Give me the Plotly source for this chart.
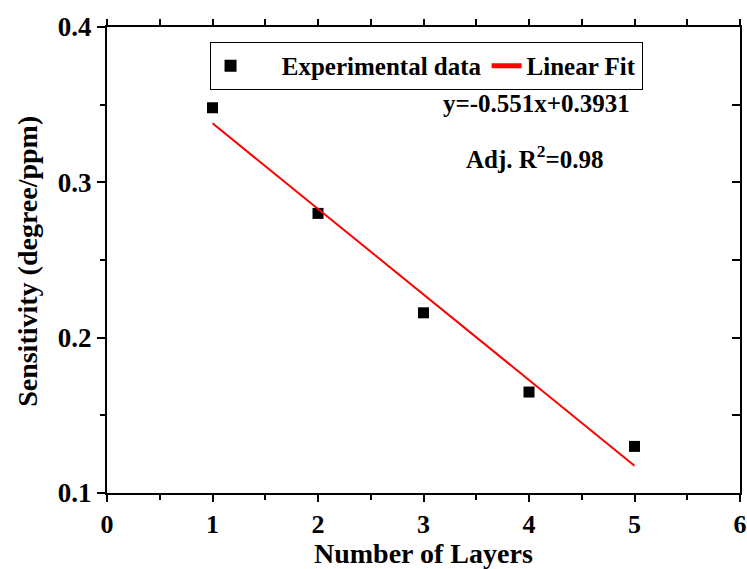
import plotly.graph_objects as go

layers = [1, 2, 3, 4, 5]
sensitivity = [0.348, 0.280, 0.216, 0.165, 0.130]
fit_x = [1, 5]
fit_y = [0.338, 0.1176]
x_ticks = [0, 1, 2, 3, 4, 5, 6]
x_tick_labels = ["0", "1", "2", "3", "4", "5", "6"]
y_ticks = [0.1, 0.2, 0.3, 0.4]
y_tick_labels = ["0.1", "0.2", "0.3", "0.4"]
x_title = "Number of Layers"
y_title = "Sensitivity (degree/ppm)"
equation_text = "y=-0.551x+0.3931"
r2_text = "Adj. R<sup>2</sup>=0.98"

FONT = "Liberation Serif"
NB = "\u00a0"

fig = go.Figure()
fig.add_trace(go.Scatter(
    x=layers, y=sensitivity, mode="markers",
    name=NB * 5 + "<b>Experimental data</b>",
    marker=dict(symbol="square", size=11, color="black"),
))
fig.add_trace(go.Scatter(
    x=fit_x, y=fit_y, mode="lines", name="<b>Linear Fit</b>",
    line=dict(color="red", width=2),
))
# invisible trace to host the mirrored axes
fig.add_trace(go.Scatter(x=[0], y=[0.1], xaxis="x2", yaxis="y2", mode="markers",
                         marker=dict(opacity=0), showlegend=False, hoverinfo="skip"))

axis_common = dict(showline=True, linecolor="black", linewidth=2, showgrid=False,
                   zeroline=False, tickcolor="black", tickwidth=2, automargin=False)

fig.update_layout(
    width=747, height=569,
    margin=dict(l=107, r=7, t=27, b=76),
    paper_bgcolor="white", plot_bgcolor="white",
    font=dict(family=FONT, color="black"),
    xaxis=dict(
        range=[0, 6], tickvals=x_ticks, ticktext=["<b>%s</b>" % t for t in x_tick_labels],
        ticks="outside", ticklen=7,
        minor=dict(dtick=0.5, ticks="outside", ticklen=5, tickcolor="black", tickwidth=2),
        tickfont=dict(size=26, family=FONT), ticklabelstandoff=0,
        **axis_common,
    ),
    yaxis=dict(
        range=[0.1, 0.4], tickvals=y_ticks, ticktext=["<b>%s</b>" % t for t in y_tick_labels],
        ticks="outside", ticklen=8,
        minor=dict(dtick=0.05, ticks="outside", ticklen=5, tickcolor="black", tickwidth=2),
        tickfont=dict(size=27, family=FONT),
        **axis_common,
    ),
    xaxis2=dict(
        overlaying="x", side="top", range=[0, 6], tickvals=x_ticks, ticks="outside", ticklen=6,
        minor=dict(dtick=0.5, ticks="outside", ticklen=6, tickcolor="black", tickwidth=2),
        showticklabels=False, **axis_common,
    ),
    yaxis2=dict(
        overlaying="y", side="right", range=[0.1, 0.4], tickvals=y_ticks, ticks="inside", ticklen=8,
        minor=dict(dtick=0.05, ticks="inside", ticklen=8, tickcolor="black", tickwidth=2),
        showticklabels=False, **axis_common,
    ),
    legend=dict(
        orientation="h", x=0.162, y=0.968, xanchor="left", yanchor="top",
        bordercolor="black", borderwidth=1, bgcolor="white",
        font=dict(size=25, family=FONT), itemsizing="constant",
        tracegroupgap=0,
    ),
    showlegend=True,
    annotations=[
        dict(text="<b>%s</b>" % x_title, x=0.5, y=-0.13, xref="paper", yref="paper",
             xanchor="center", yanchor="middle",
             showarrow=False, font=dict(size=28, family=FONT)),
        dict(text="<b>%s</b>" % y_title, x=-0.1248, y=0.496, xref="paper", yref="paper",
             xanchor="center", yanchor="middle", textangle=-90,
             showarrow=False, font=dict(size=28, family=FONT)),
        dict(text="<b>%s</b>" % equation_text, x=0.678, y=0.835, xref="paper", yref="paper",
             xanchor="center", yanchor="middle",
             showarrow=False, font=dict(size=25, family=FONT)),
        dict(text="<b>%s</b>" % r2_text, x=0.676, y=0.721, xref="paper", yref="paper",
             xanchor="center", yanchor="middle",
             showarrow=False, font=dict(size=25, family=FONT)),
    ],
)

fig.write_html("out.html")
